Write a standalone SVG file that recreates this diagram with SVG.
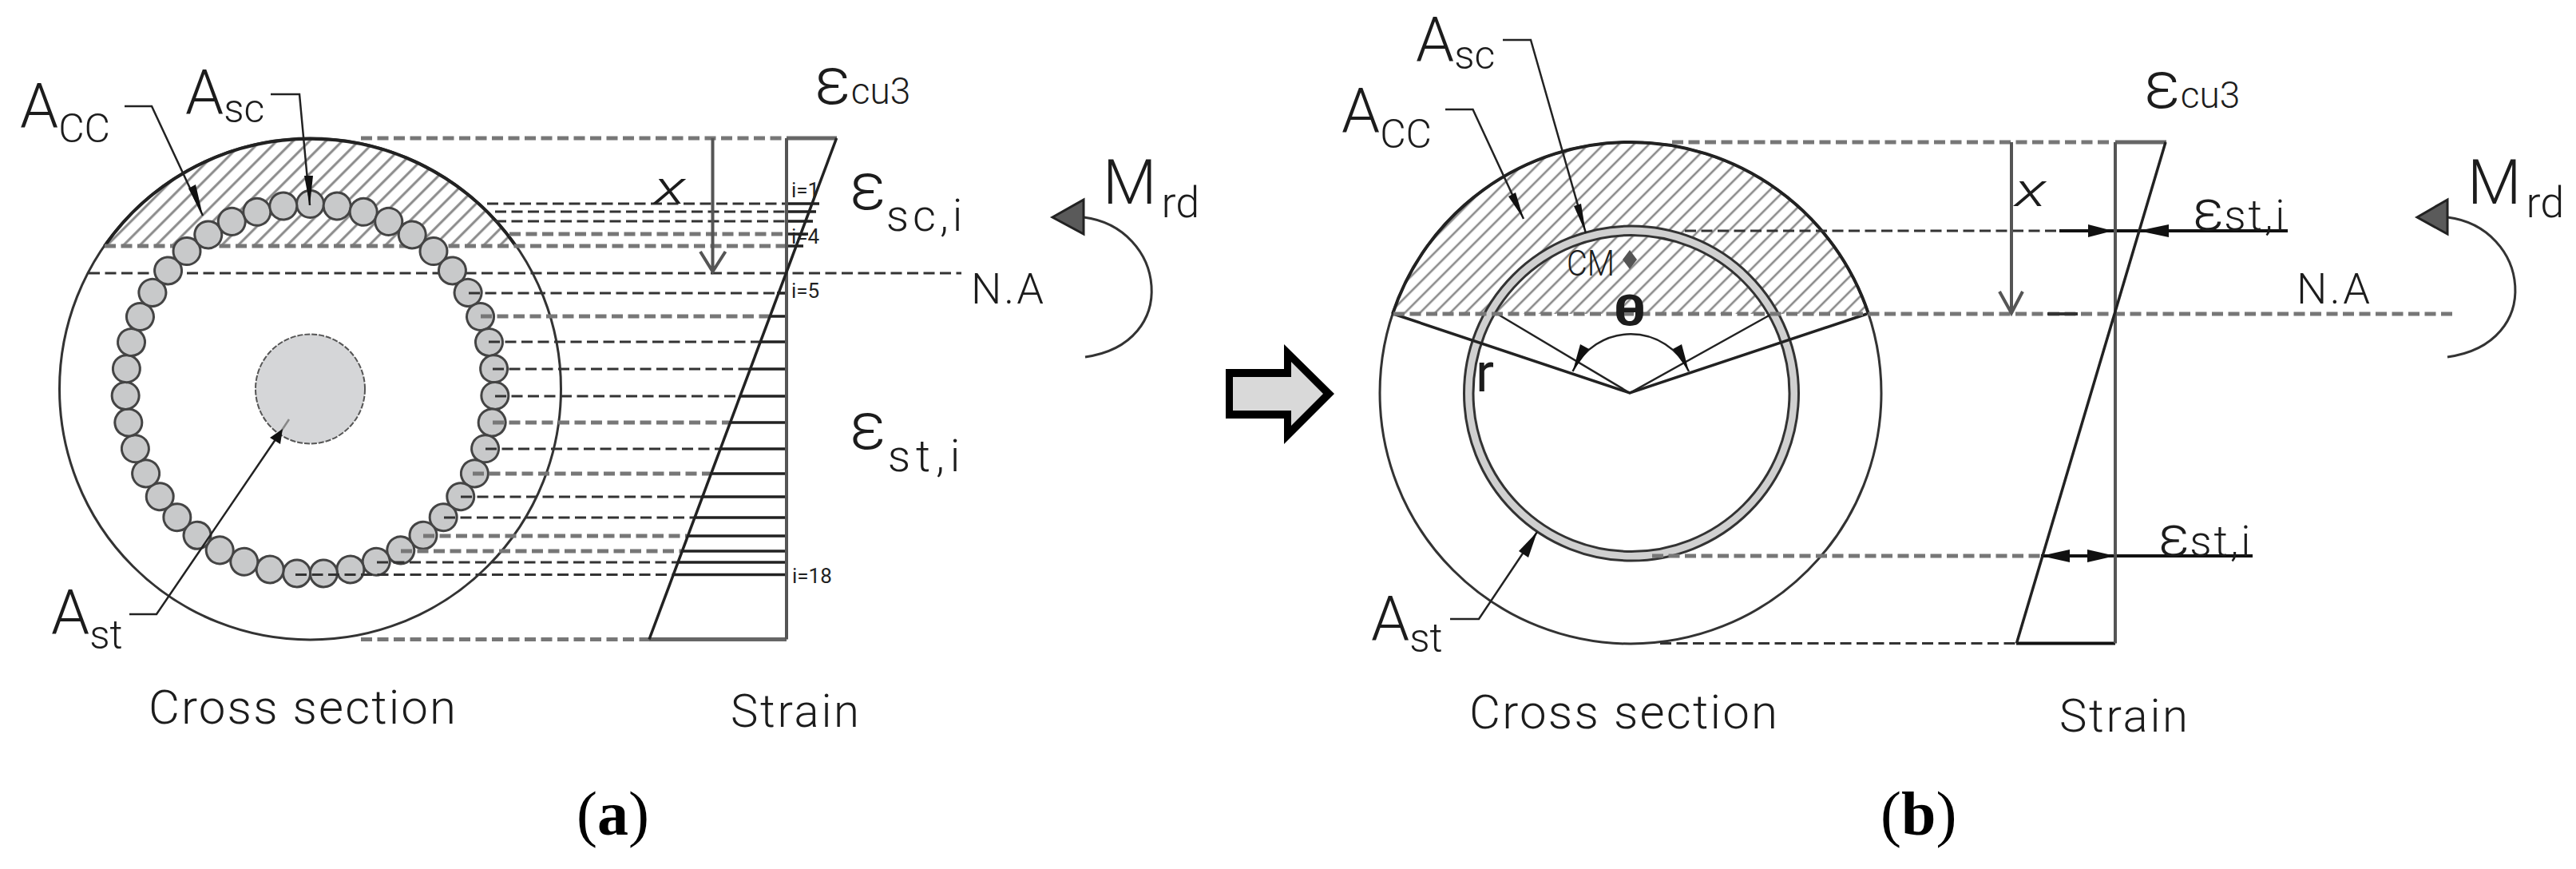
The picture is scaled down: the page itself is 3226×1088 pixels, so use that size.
<svg xmlns="http://www.w3.org/2000/svg" width="3226" height="1088" viewBox="0 0 3226 1088">
<style>
text{font-family:"Roboto","Liberation Sans",sans-serif;font-weight:300;fill:#1c1c1c}
.cap{font-family:"Liberation Serif",serif;font-size:78px;fill:#000;font-weight:400}
.cap tspan{font-weight:700}
.idx{font-size:26px;font-weight:400;fill:#222}
.thin{fill:none;stroke:#333;stroke-width:3}
.lead{fill:none;stroke:#222;stroke-width:2.5}
.d{fill:none;stroke:#333;stroke-width:3;stroke-dasharray:14 6.5}
.g{fill:none;stroke:#777;stroke-width:5;stroke-dasharray:14 6.5}
.s{fill:none;stroke:#222;stroke-width:3.5}
.sg{fill:none;stroke:#666;stroke-width:5}
.ax{fill:none;stroke:#555;stroke-width:4}
.bar{fill:#c8c9ca;stroke:#444;stroke-width:3}
.hd{fill:#111}
.tri{fill:#5a5a5a;stroke:#222;stroke-width:3}
</style>
<defs>
<pattern id="hA" width="14.5" height="14.5" patternUnits="userSpaceOnUse" patternTransform="rotate(45)"><rect x="6" y="0" width="3" height="14.5" fill="#8a8a8a"/></pattern>
<pattern id="hB" width="13.4" height="13.4" patternUnits="userSpaceOnUse" patternTransform="rotate(45)"><rect x="5.5" y="0" width="2.6" height="13.4" fill="#8a8a8a"/></pattern>
<circle id="b" class="bar" cx="388.5" cy="255.5" r="17"/>
</defs>
<rect width="3226" height="1088" fill="#fff"/>

<g id="section-a">
<path d="M131 308A314 314 0 0 1 646 308Z" fill="url(#hA)"/>
<circle class="thin" cx="388.5" cy="487" r="314"/>
<path d="M131 308A314 314 0 0 1 646 308" fill="none" stroke="#222" stroke-width="4"/>
<circle cx="388.5" cy="487" r="68.5" fill="#d5d6d8" stroke="#555" stroke-width="2" stroke-dasharray="7 2"/>
</g>

<g id="connectors-a">
<path class="g" d="M452 173H985"/>
<path class="g" d="M131 308H985"/>
<path class="d" d="M111 342H1204"/>
</g>

<g id="bars-a">
<use href="#b" transform="rotate(0 388.5 487)"/><use href="#b" transform="rotate(8.372 388.5 487)"/><use href="#b" transform="rotate(16.744 388.5 487)"/><use href="#b" transform="rotate(25.116 388.5 487)"/><use href="#b" transform="rotate(33.488 388.5 487)"/><use href="#b" transform="rotate(41.860 388.5 487)"/><use href="#b" transform="rotate(50.233 388.5 487)"/><use href="#b" transform="rotate(58.605 388.5 487)"/><use href="#b" transform="rotate(66.977 388.5 487)"/><use href="#b" transform="rotate(75.349 388.5 487)"/><use href="#b" transform="rotate(83.721 388.5 487)"/><use href="#b" transform="rotate(92.093 388.5 487)"/><use href="#b" transform="rotate(100.465 388.5 487)"/><use href="#b" transform="rotate(108.837 388.5 487)"/><use href="#b" transform="rotate(117.209 388.5 487)"/><use href="#b" transform="rotate(125.581 388.5 487)"/><use href="#b" transform="rotate(133.953 388.5 487)"/><use href="#b" transform="rotate(142.326 388.5 487)"/><use href="#b" transform="rotate(150.698 388.5 487)"/><use href="#b" transform="rotate(159.070 388.5 487)"/><use href="#b" transform="rotate(167.442 388.5 487)"/><use href="#b" transform="rotate(175.814 388.5 487)"/><use href="#b" transform="rotate(184.186 388.5 487)"/><use href="#b" transform="rotate(192.558 388.5 487)"/><use href="#b" transform="rotate(200.930 388.5 487)"/><use href="#b" transform="rotate(209.302 388.5 487)"/><use href="#b" transform="rotate(217.674 388.5 487)"/><use href="#b" transform="rotate(226.047 388.5 487)"/><use href="#b" transform="rotate(234.419 388.5 487)"/><use href="#b" transform="rotate(242.791 388.5 487)"/><use href="#b" transform="rotate(251.163 388.5 487)"/><use href="#b" transform="rotate(259.535 388.5 487)"/><use href="#b" transform="rotate(267.907 388.5 487)"/><use href="#b" transform="rotate(276.279 388.5 487)"/><use href="#b" transform="rotate(284.651 388.5 487)"/><use href="#b" transform="rotate(293.023 388.5 487)"/><use href="#b" transform="rotate(301.395 388.5 487)"/><use href="#b" transform="rotate(309.767 388.5 487)"/><use href="#b" transform="rotate(318.140 388.5 487)"/><use href="#b" transform="rotate(326.512 388.5 487)"/><use href="#b" transform="rotate(334.884 388.5 487)"/><use href="#b" transform="rotate(343.256 388.5 487)"/><use href="#b" transform="rotate(351.628 388.5 487)"/>
</g>

<g id="strain-lines-a">
<path class="d" d="M610 255H985"/>
<path class="d" d="M620 265H985"/>
<path class="d" d="M620 277H985"/>
<path class="g" d="M638 293H985"/>
<path class="d" d="M587 367H973"/>
<path class="g" d="M602 396H963"/>
<path class="d" d="M612 428H951"/>
<path class="d" d="M617 462H938"/>
<path class="d" d="M620 496H926"/>
<path class="g" d="M617 529H913"/>
<path class="d" d="M608 562H901"/>
<path class="g" d="M592 593H889"/>
<path class="d" d="M577 622H878"/>
<path class="d" d="M556 648H869"/>
<path class="g" d="M530 671H860"/>
<path class="g" d="M502 690H853"/>
<path class="d" d="M472 704H848"/>
<path class="d" d="M370 719.500H842"/>
<path class="s" d="M985 255H1026M985 265H1022M985 277H1018M985 293H1012M985 308H1006"/>
<path class="s" d="M973 367H985M963 396H985M951 428H985M938 462H985M926 496H985M913 529H985M901 562H985M889 593H985M878 622H985M869 648H985M860 671H985M853 690H985M848 704H985M842 719.500H985"/>
<path class="sg" d="M985 173H1048M813 800.500H985"/>
<path class="g" d="M452 800.500H813"/>
<path class="ax" d="M985 173V800.500"/>
<path class="s" d="M1047.600 173L813 800.500"/>
<path class="ax" d="M892.500 173V340M877 315L892.500 340L908.500 315"/>
</g>

<g id="leaders-a">
<path class="lead" d="M156 133H190L254 270"/><polygon class="hd" points="254,270 236,236 245,231"/>
<path class="lead" d="M339 118H375L388 257"/><polygon class="hd" points="388,257 381,220 392,220"/>
<path class="lead" d="M162 769H196L352 540"/><path d="M352 540L362 525" stroke="#888" stroke-width="2.500"/><polygon class="hd" points="354,537 351,556 338,548"/>
</g>

<g id="moment-a">
<path class="thin" d="M1357 272C1460 285 1480 430 1359 447"/>
<polygon class="tri" points="1318,272 1357,250 1357,293"/>
</g>

<g id="labels-a">
<text transform="translate(25 160)" font-size="77">A<tspan font-size="50" dy="18">CC</tspan></text>
<text transform="translate(232 143)" font-size="77">A<tspan font-size="50" dy="10">sc</tspan></text>
<text transform="translate(64 794)" font-size="77">A<tspan font-size="50" dy="18">st</tspan></text>
<text x="186" y="906" font-size="60" textLength="385" lengthAdjust="spacing">Cross section</text>
<text x="915" y="910" font-size="58" textLength="161" lengthAdjust="spacing">Strain</text>
<text transform="translate(1020 130)" font-size="84">ε<tspan font-size="46">cu3</tspan></text>
<text transform="translate(1064 262)" font-size="84">ε<tspan font-size="56" dy="27" letter-spacing="5">sc,i</tspan></text>
<text transform="translate(1064 562)" font-size="84">ε<tspan font-size="56" dy="28" dx="2" letter-spacing="7">st,i</tspan></text>
<text transform="translate(1381 255)" font-size="78">M<tspan font-size="54" dy="17" dx="6">rd</tspan></text>
<text x="1216" y="380" font-size="54" textLength="91" lengthAdjust="spacing">N.A</text>
<text transform="translate(819 255) scale(1.4 1)" font-size="60" font-style="italic">x</text>
<text class="idx" x="991" y="247">i=1</text>
<text class="idx" x="991" y="305">i=4</text>
<text class="idx" x="991" y="373">i=5</text>
<text class="idx" x="992" y="730">i=18</text>
<text class="cap" x="722" y="1045">(<tspan>a</tspan>)</text>
</g>

<g id="arrow">
<polygon points="1535,462 1608,462 1608,431 1671,493 1608,556 1608,524 1535,524" fill="#000"/>
<polygon points="1544,472 1617,472 1617,453 1657,493 1617,533 1617,514 1544,514" fill="#d9d9d9"/>
</g>

<g id="section-b">
<path d="M1744 393A314 314 0 0 1 2340 393Z" fill="url(#hB)"/>
<circle class="thin" cx="2042" cy="492" r="314"/>
<path d="M1744 393A314 314 0 0 1 2340 393" fill="none" stroke="#222" stroke-width="4"/>
<circle cx="2043" cy="492.500" r="204" fill="none" stroke="#d0d0d0" stroke-width="10"/>
<circle cx="2043" cy="492.500" r="209.500" fill="none" stroke="#333" stroke-width="3"/>
<circle cx="2043" cy="492.500" r="198" fill="none" stroke="#333" stroke-width="3"/>
<path class="s" d="M1745 393L2041 492L2338 393"/>
<path class="lead" d="M1875 393L2041 492L2219 393"/>
<path class="lead" d="M1969.500 465A80 80 0 0 1 2115 465"/>
<polygon class="hd" points="1969.500,465 1979,431 1990,437"/>
<polygon class="hd" points="2115,465 2095,437 2106,431"/>
<polygon points="2041,313 2050,325 2041,337 2032,325" fill="#555"/>
</g>

<g id="connectors-b">
<path class="g" d="M2094 178H2641"/>
<path class="d" d="M2110 289H2579"/>
<path class="g" d="M1745 393H3073"/>
<path class="g" d="M2069 696H2556"/>
<path class="d" d="M2079 805.500H2525"/>
<path d="M2564 393H2602" stroke="#333" stroke-width="4"/>
<path class="sg" d="M2649 178H2713"/>
<path d="M2579 289H2865M2556 696H2821" stroke="#111" stroke-width="4"/>
<path d="M2525 805.500H2649" stroke="#111" stroke-width="4"/>
<path class="ax" d="M2649 178V805.500"/>
<path class="s" d="M2712 178L2525.400 805.500"/>
<path class="ax" d="M2519 178V390M2504 365L2519 392L2533 365"/>
<polygon class="hd" points="2646,289 2615,281 2615,297"/>
<polygon class="hd" points="2678,289 2716,281 2716,297"/>
<polygon class="hd" points="2556,696 2592,688 2592,704"/>
<polygon class="hd" points="2649,696 2614,688 2614,704"/>
</g>

<g id="leaders-b">
<path class="lead" d="M1882 50H1917L1986 292"/><polygon class="hd" points="1986,292 1971,258 1980,255"/>
<path class="lead" d="M1810 137H1844.500L1908 274"/><polygon class="hd" points="1908,274 1889,246 1898,241"/>
<path class="lead" d="M1816 775H1852L1925 666"/><polygon class="hd" points="1925,666 1914,698 1902,690"/>
</g>

<g id="moment-b">
<path class="thin" d="M3065 272C3168 285 3188 430 3065 447"/>
<polygon class="tri" points="3027,272 3065,250 3065,293"/>
</g>

<g id="labels-b">
<text transform="translate(1773 77)" font-size="77">A<tspan font-size="50" dy="9">sc</tspan></text>
<text transform="translate(1680 166)" font-size="77">A<tspan font-size="50" dy="19">CC</tspan></text>
<text transform="translate(1717 802)" font-size="77">A<tspan font-size="50" dy="14">st</tspan></text>
<text x="1840" y="912" font-size="60" textLength="386" lengthAdjust="spacing">Cross section</text>
<text x="2579" y="916" font-size="58" textLength="161" lengthAdjust="spacing">Strain</text>
<text transform="translate(2685 135)" font-size="84">ε<tspan font-size="46">cu3</tspan></text>
<text x="2746" y="288" font-size="72">ε<tspan font-size="54" letter-spacing="3">st,i</tspan></text>
<text x="2703" y="696" font-size="72">ε<tspan font-size="54" letter-spacing="3">st,i</tspan></text>
<text transform="translate(3090 255)" font-size="78">M<tspan font-size="54" dy="17" dx="6">rd</tspan></text>
<text x="2876" y="380" font-size="54" textLength="92" lengthAdjust="spacing">N.A</text>
<text transform="translate(2523 258) scale(1.4 1)" font-size="60" font-style="italic">x</text>
<text x="1962" y="345" font-size="44" textLength="60" lengthAdjust="spacingAndGlyphs">CM</text>
<text transform="translate(2041 407) scale(1.3 1)" font-size="54" text-anchor="middle" style="font-weight:700">θ</text>
<text x="1848" y="490" font-size="68" style="font-weight:400">r</text>
<text class="cap" x="2355" y="1045">(<tspan>b</tspan>)</text>
</g>
</svg>
